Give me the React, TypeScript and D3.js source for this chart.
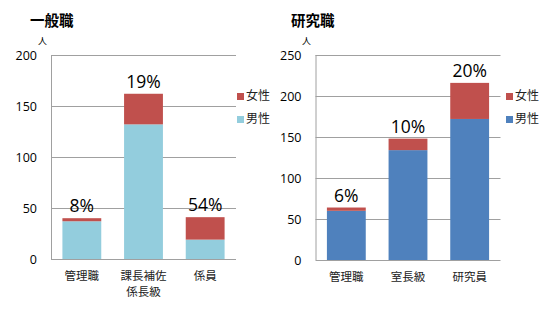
import React from "react";
import * as d3 from "d3";

const generalCategories = [["管理職"], ["課長補佐", "係長級"], ["係員"]];
const generalMale = [37, 132, 19];
const generalFemale = [3, 30, 22];
const generalPct = ["8%", "19%", "54%"];
const generalTicks = [0, 50, 100, 150, 200];

const researchCategories = [["管理職"], ["室長級"], ["研究員"]];
const researchMale = [60, 134, 172];
const researchFemale = [4, 14, 44];
const researchPct = ["6%", "10%", "20%"];
const researchTicks = [0, 50, 100, 150, 200, 250];

const legendLabels = ["女性", "男性"];

const RED = "#C0504D";
const FONT = "'Open Sans','Noto Sans CJK JP',sans-serif";
const CJK = "'Noto Sans CJK JP',sans-serif";

type PanelProps = {
  title: string;
  cats: string[][];
  male: number[];
  female: number[];
  pct: string[];
  ticks: number[];
  maxY: number;
  x0: number;
  x1: number;
  y0: number;
  y1: number;
  maleColor: string;
  titleX: number;
  unitX: number;
  legendX: number;
};

function Panel(p: PanelProps) {
  const x = d3
    .scaleBand<number>()
    .domain(p.cats.map((_, i) => i))
    .range([p.x0, p.x1])
    .paddingInner(0.37)
    .paddingOuter(0.185);
  const y = d3.scaleLinear().domain([0, p.maxY]).range([p.y0, p.y1]);
  const bw = x.bandwidth();
  return (
    <g>
      <text x={p.titleX} y={26} fontFamily={CJK} fontWeight="bold" fontSize={14.5} fill="#000">
        {p.title}
      </text>
      <text x={p.unitX} y={44} fontFamily={CJK} fontSize={9} fill="#000">
        人
      </text>
      {p.ticks.map((t) => (
        <g key={t}>
          <line x1={p.x0} x2={p.x1} y1={Math.round(y(t)) + 0.5} y2={Math.round(y(t)) + 0.5} stroke="#a0a0a0" strokeWidth={1} />
          <text x={p.x0 - 14} y={y(t) + 4.5} textAnchor="end" fontFamily={FONT} fontSize={12.5} fill="#000">
            {t}
          </text>
        </g>
      ))}
      <line x1={p.x0 + 0.5} x2={p.x0 + 0.5} y1={p.y1} y2={p.y0} stroke="#a0a0a0" />
      {p.cats.map((c, i) => {
        const bx = x(i)!;
        const total = p.male[i] + p.female[i];
        return (
          <g key={i}>
            <rect x={bx} width={bw} y={y(p.male[i])} height={y(0) - y(p.male[i])} fill={p.maleColor} />
            <rect x={bx} width={bw} y={y(total)} height={y(p.male[i]) - y(total)} fill={RED} />
            <text x={bx + bw / 2} y={y(total) - 6} textAnchor="middle" fontFamily={FONT} fontSize={17.5} fill="#000">
              {p.pct[i]}
            </text>
            {c.map((line, j) => (
              <text key={j} x={bx + bw / 2} y={p.y0 + 21 + j * 15.5} textAnchor="middle" fontFamily={CJK} fontSize={11.5} fill="#222">
                {line}
              </text>
            ))}
          </g>
        );
      })}
      {legendLabels.map((l, i) => (
        <g key={l}>
          <rect x={p.legendX} y={93 + i * 23} width={7} height={7} fill={i === 0 ? RED : p.maleColor} />
          <text x={p.legendX + 9} y={100 + i * 23} fontFamily={CJK} fontSize={12} fill="#222">
            {l}
          </text>
        </g>
      ))}
    </g>
  );
}

export default function App() {
  return (
    <svg width={550} height={309} style={{ position: "absolute", left: 0, top: 0, background: "#fff" }}>
      <rect width={550} height={309} fill="#fff" />
      <Panel
        title="一般職"
        cats={generalCategories}
        male={generalMale}
        female={generalFemale}
        pct={generalPct}
        ticks={generalTicks}
        maxY={200}
        x0={51}
        x1={236}
        y0={259}
        y1={55}
        maleColor="#93CDDD"
        titleX={30}
        unitX={38}
        legendX={237}
      />
      <Panel
        title="研究職"
        cats={researchCategories}
        male={researchMale}
        female={researchFemale}
        pct={researchPct}
        ticks={researchTicks}
        maxY={250}
        x0={315.5}
        x1={500.5}
        y0={260}
        y1={55}
        maleColor="#4F81BD"
        titleX={291}
        unitX={302}
        legendX={506}
      />
    </svg>
  );
}
